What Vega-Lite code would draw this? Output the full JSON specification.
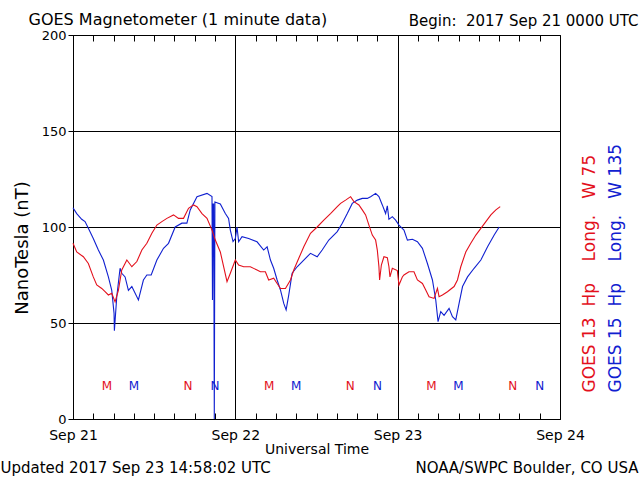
{
  "$schema": "https://vega.github.io/schema/vega-lite/v6.json",
  "description": "GOES magnetometer Hp, 2017 Sep 21-24",
  "width": 487,
  "height": 384,
  "autosize": "none",
  "padding": {"left": 73, "top": 35, "right": 80, "bottom": 61},
  "background": "white",
  "config": {
    "view": {"stroke": "black", "strokeWidth": 1},
    "font": "DejaVu Sans",
    "axis": {
      "labelFont": "DejaVu Sans",
      "titleFont": "DejaVu Sans",
      "labelColor": "black",
      "titleColor": "black",
      "titleFontWeight": "normal",
      "tickColor": "black",
      "domainColor": "black",
      "gridColor": "black",
      "gridOpacity": 1,
      "domain": false
    }
  },
  "datasets": {
    "goes": [
      {"sat": "GOES 15", "h": 0, "nT": 110}, {"sat": "GOES 15", "h": 0.55, "nT": 107}, {"sat": "GOES 15", "h": 1.29, "nT": 104},
      {"sat": "GOES 15", "h": 1.78, "nT": 102.8}, {"sat": "GOES 15", "h": 2.27, "nT": 99.3}, {"sat": "GOES 15", "h": 3.0, "nT": 94},
      {"sat": "GOES 15", "h": 3.75, "nT": 88}, {"sat": "GOES 15", "h": 4.49, "nT": 82.8}, {"sat": "GOES 15", "h": 5.23, "nT": 74},
      {"sat": "GOES 15", "h": 5.73, "nT": 67}, {"sat": "GOES 15", "h": 6.07, "nT": 55}, {"sat": "GOES 15", "h": 6.12, "nT": 46},
      {"sat": "GOES 15", "h": 6.47, "nT": 63.7}, {"sat": "GOES 15", "h": 6.96, "nT": 78.5}, {"sat": "GOES 15", "h": 7.21, "nT": 75.9},
      {"sat": "GOES 15", "h": 7.7, "nT": 74}, {"sat": "GOES 15", "h": 8.19, "nT": 67}, {"sat": "GOES 15", "h": 8.7, "nT": 69},
      {"sat": "GOES 15", "h": 9.67, "nT": 62}, {"sat": "GOES 15", "h": 10.41, "nT": 72.4}, {"sat": "GOES 15", "h": 10.92, "nT": 75},
      {"sat": "GOES 15", "h": 11.56, "nT": 75}, {"sat": "GOES 15", "h": 12.4, "nT": 82.8}, {"sat": "GOES 15", "h": 13.38, "nT": 88.9},
      {"sat": "GOES 15", "h": 14.12, "nT": 91.5}, {"sat": "GOES 15", "h": 15.11, "nT": 100}, {"sat": "GOES 15", "h": 16.1, "nT": 102},
      {"sat": "GOES 15", "h": 16.84, "nT": 102}, {"sat": "GOES 15", "h": 17.33, "nT": 108.9}, {"sat": "GOES 15", "h": 18.33, "nT": 115.8},
      {"sat": "GOES 15", "h": 19.81, "nT": 117.5}, {"sat": "GOES 15", "h": 20.55, "nT": 115.8}, {"sat": "GOES 15", "h": 20.62, "nT": 62},
      {"sat": "GOES 15", "h": 20.7, "nT": 112}, {"sat": "GOES 15", "h": 20.8, "nT": 112}, {"sat": "GOES 15", "h": 20.89, "nT": 0},
      {"sat": "GOES 15", "h": 20.98, "nT": 113}, {"sat": "GOES 15", "h": 21.78, "nT": 112}, {"sat": "GOES 15", "h": 22.52, "nT": 107},
      {"sat": "GOES 15", "h": 23.0, "nT": 104.5}, {"sat": "GOES 15", "h": 23.26, "nT": 98.4}, {"sat": "GOES 15", "h": 23.66, "nT": 92.4},
      {"sat": "GOES 15", "h": 24.0, "nT": 94}, {"sat": "GOES 15", "h": 24.25, "nT": 100}, {"sat": "GOES 15", "h": 24.49, "nT": 92.3},
      {"sat": "GOES 15", "h": 24.99, "nT": 95}, {"sat": "GOES 15", "h": 25.97, "nT": 94}, {"sat": "GOES 15", "h": 27.21, "nT": 92.3},
      {"sat": "GOES 15", "h": 28.19, "nT": 88}, {"sat": "GOES 15", "h": 28.7, "nT": 89.7}, {"sat": "GOES 15", "h": 29.19, "nT": 82.8},
      {"sat": "GOES 15", "h": 29.67, "nT": 78.5}, {"sat": "GOES 15", "h": 30.18, "nT": 72.4}, {"sat": "GOES 15", "h": 30.67, "nT": 67.2},
      {"sat": "GOES 15", "h": 31.16, "nT": 60.2}, {"sat": "GOES 15", "h": 31.51, "nT": 56.8}, {"sat": "GOES 15", "h": 31.9, "nT": 64.6},
      {"sat": "GOES 15", "h": 32.4, "nT": 75.9}, {"sat": "GOES 15", "h": 33.14, "nT": 79.3}, {"sat": "GOES 15", "h": 34.12, "nT": 82.8},
      {"sat": "GOES 15", "h": 35.11, "nT": 86.3}, {"sat": "GOES 15", "h": 36.1, "nT": 84.5}, {"sat": "GOES 15", "h": 36.84, "nT": 88},
      {"sat": "GOES 15", "h": 37.82, "nT": 93.2}, {"sat": "GOES 15", "h": 39.07, "nT": 97.6}, {"sat": "GOES 15", "h": 39.81, "nT": 102},
      {"sat": "GOES 15", "h": 40.55, "nT": 107}, {"sat": "GOES 15", "h": 41.29, "nT": 112.3}, {"sat": "GOES 15", "h": 42.03, "nT": 114},
      {"sat": "GOES 15", "h": 42.77, "nT": 114.9}, {"sat": "GOES 15", "h": 43.51, "nT": 114.9}, {"sat": "GOES 15", "h": 44.0, "nT": 115.8},
      {"sat": "GOES 15", "h": 44.74, "nT": 117.5}, {"sat": "GOES 15", "h": 45.23, "nT": 115.8}, {"sat": "GOES 15", "h": 45.73, "nT": 111.5},
      {"sat": "GOES 15", "h": 46.22, "nT": 107}, {"sat": "GOES 15", "h": 46.47, "nT": 111}, {"sat": "GOES 15", "h": 46.71, "nT": 104},
      {"sat": "GOES 15", "h": 47.21, "nT": 105.4}, {"sat": "GOES 15", "h": 47.7, "nT": 103.6}, {"sat": "GOES 15", "h": 48.19, "nT": 101},
      {"sat": "GOES 15", "h": 48.93, "nT": 98.4}, {"sat": "GOES 15", "h": 49.44, "nT": 93.2}, {"sat": "GOES 15", "h": 50.18, "nT": 93.6},
      {"sat": "GOES 15", "h": 50.92, "nT": 92.3}, {"sat": "GOES 15", "h": 51.66, "nT": 88.9}, {"sat": "GOES 15", "h": 52.4, "nT": 81},
      {"sat": "GOES 15", "h": 53.14, "nT": 72.4}, {"sat": "GOES 15", "h": 53.63, "nT": 62}, {"sat": "GOES 15", "h": 53.97, "nT": 50.7},
      {"sat": "GOES 15", "h": 54.37, "nT": 55.9}, {"sat": "GOES 15", "h": 54.86, "nT": 54}, {"sat": "GOES 15", "h": 55.6, "nT": 57.6},
      {"sat": "GOES 15", "h": 56.1, "nT": 53.3}, {"sat": "GOES 15", "h": 56.59, "nT": 51.6}, {"sat": "GOES 15", "h": 57.08, "nT": 60.2},
      {"sat": "GOES 15", "h": 57.59, "nT": 69}, {"sat": "GOES 15", "h": 58.33, "nT": 74}, {"sat": "GOES 15", "h": 59.3, "nT": 78.5},
      {"sat": "GOES 15", "h": 60.3, "nT": 82.8}, {"sat": "GOES 15", "h": 61.29, "nT": 89.7}, {"sat": "GOES 15", "h": 62.27, "nT": 95.8},
      {"sat": "GOES 15", "h": 63.01, "nT": 100},
      {"sat": "GOES 13", "h": 0, "nT": 91.5}, {"sat": "GOES 13", "h": 0.55, "nT": 87}, {"sat": "GOES 13", "h": 1.53, "nT": 84.5},
      {"sat": "GOES 13", "h": 2.27, "nT": 81}, {"sat": "GOES 13", "h": 3.0, "nT": 74}, {"sat": "GOES 13", "h": 3.51, "nT": 69.8},
      {"sat": "GOES 13", "h": 4.25, "nT": 68}, {"sat": "GOES 13", "h": 4.74, "nT": 66.3}, {"sat": "GOES 13", "h": 5.23, "nT": 64.6},
      {"sat": "GOES 13", "h": 5.73, "nT": 65.5}, {"sat": "GOES 13", "h": 6.22, "nT": 61}, {"sat": "GOES 13", "h": 6.71, "nT": 67},
      {"sat": "GOES 13", "h": 7.21, "nT": 77.6}, {"sat": "GOES 13", "h": 7.96, "nT": 82.8}, {"sat": "GOES 13", "h": 8.7, "nT": 79.3},
      {"sat": "GOES 13", "h": 9.44, "nT": 82}, {"sat": "GOES 13", "h": 10.18, "nT": 88}, {"sat": "GOES 13", "h": 10.92, "nT": 91.5},
      {"sat": "GOES 13", "h": 11.66, "nT": 96.7}, {"sat": "GOES 13", "h": 12.4, "nT": 101}, {"sat": "GOES 13", "h": 13.14, "nT": 102.8},
      {"sat": "GOES 13", "h": 13.88, "nT": 104.5}, {"sat": "GOES 13", "h": 14.86, "nT": 106.3}, {"sat": "GOES 13", "h": 15.6, "nT": 104.5},
      {"sat": "GOES 13", "h": 16.34, "nT": 104.5}, {"sat": "GOES 13", "h": 17.08, "nT": 109.7}, {"sat": "GOES 13", "h": 17.82, "nT": 111.5},
      {"sat": "GOES 13", "h": 18.33, "nT": 110.6}, {"sat": "GOES 13", "h": 19.07, "nT": 107}, {"sat": "GOES 13", "h": 19.81, "nT": 104.5},
      {"sat": "GOES 13", "h": 20.55, "nT": 98.4}, {"sat": "GOES 13", "h": 21.04, "nT": 93.2}, {"sat": "GOES 13", "h": 21.78, "nT": 87},
      {"sat": "GOES 13", "h": 22.27, "nT": 79.3}, {"sat": "GOES 13", "h": 22.77, "nT": 71.5}, {"sat": "GOES 13", "h": 23.26, "nT": 75.9},
      {"sat": "GOES 13", "h": 24.0, "nT": 82.8}, {"sat": "GOES 13", "h": 24.49, "nT": 80.2}, {"sat": "GOES 13", "h": 25.23, "nT": 79.3},
      {"sat": "GOES 13", "h": 26.22, "nT": 79.3}, {"sat": "GOES 13", "h": 27.21, "nT": 77.6}, {"sat": "GOES 13", "h": 27.7, "nT": 76.7},
      {"sat": "GOES 13", "h": 28.44, "nT": 76.7}, {"sat": "GOES 13", "h": 28.93, "nT": 72.4}, {"sat": "GOES 13", "h": 29.67, "nT": 73.3},
      {"sat": "GOES 13", "h": 30.18, "nT": 70.6}, {"sat": "GOES 13", "h": 30.67, "nT": 68}, {"sat": "GOES 13", "h": 31.41, "nT": 68},
      {"sat": "GOES 13", "h": 32.15, "nT": 72.4}, {"sat": "GOES 13", "h": 32.64, "nT": 77.6}, {"sat": "GOES 13", "h": 33.38, "nT": 83.7},
      {"sat": "GOES 13", "h": 34.12, "nT": 89.7}, {"sat": "GOES 13", "h": 35.11, "nT": 96.7}, {"sat": "GOES 13", "h": 36.1, "nT": 100},
      {"sat": "GOES 13", "h": 37.08, "nT": 103.6}, {"sat": "GOES 13", "h": 38.07, "nT": 107}, {"sat": "GOES 13", "h": 39.07, "nT": 110.6},
      {"sat": "GOES 13", "h": 39.56, "nT": 112.3}, {"sat": "GOES 13", "h": 40.3, "nT": 114}, {"sat": "GOES 13", "h": 41.04, "nT": 115.8},
      {"sat": "GOES 13", "h": 41.53, "nT": 113.2}, {"sat": "GOES 13", "h": 42.27, "nT": 111.5}, {"sat": "GOES 13", "h": 42.77, "nT": 108.9},
      {"sat": "GOES 13", "h": 43.26, "nT": 106.3}, {"sat": "GOES 13", "h": 43.75, "nT": 101}, {"sat": "GOES 13", "h": 44.25, "nT": 95.8},
      {"sat": "GOES 13", "h": 44.74, "nT": 93.2}, {"sat": "GOES 13", "h": 44.99, "nT": 88}, {"sat": "GOES 13", "h": 45.23, "nT": 79.3},
      {"sat": "GOES 13", "h": 45.33, "nT": 72.4}, {"sat": "GOES 13", "h": 45.59, "nT": 80.2}, {"sat": "GOES 13", "h": 45.97, "nT": 84.5},
      {"sat": "GOES 13", "h": 46.47, "nT": 84}, {"sat": "GOES 13", "h": 46.71, "nT": 79.3}, {"sat": "GOES 13", "h": 46.86, "nT": 74},
      {"sat": "GOES 13", "h": 47.21, "nT": 78.5}, {"sat": "GOES 13", "h": 47.95, "nT": 77.3}, {"sat": "GOES 13", "h": 48.19, "nT": 69.8},
      {"sat": "GOES 13", "h": 48.69, "nT": 74}, {"sat": "GOES 13", "h": 48.93, "nT": 75}, {"sat": "GOES 13", "h": 49.67, "nT": 76.7},
      {"sat": "GOES 13", "h": 50.41, "nT": 76.7}, {"sat": "GOES 13", "h": 50.92, "nT": 72.4}, {"sat": "GOES 13", "h": 51.66, "nT": 70.6},
      {"sat": "GOES 13", "h": 52.15, "nT": 67.2}, {"sat": "GOES 13", "h": 52.64, "nT": 63.7}, {"sat": "GOES 13", "h": 53.38, "nT": 62.8},
      {"sat": "GOES 13", "h": 53.88, "nT": 68}, {"sat": "GOES 13", "h": 54.12, "nT": 63.7}, {"sat": "GOES 13", "h": 54.62, "nT": 64.6},
      {"sat": "GOES 13", "h": 55.36, "nT": 66.3}, {"sat": "GOES 13", "h": 56.34, "nT": 69}, {"sat": "GOES 13", "h": 56.84, "nT": 72.4},
      {"sat": "GOES 13", "h": 57.33, "nT": 79.3}, {"sat": "GOES 13", "h": 58.07, "nT": 87}, {"sat": "GOES 13", "h": 58.81, "nT": 91.5},
      {"sat": "GOES 13", "h": 59.56, "nT": 95.8}, {"sat": "GOES 13", "h": 60.3, "nT": 99.3}, {"sat": "GOES 13", "h": 61.04, "nT": 102.8},
      {"sat": "GOES 13", "h": 61.78, "nT": 106.3}, {"sat": "GOES 13", "h": 62.52, "nT": 108.9}, {"sat": "GOES 13", "h": 63.16, "nT": 110.6}
    ],
    "mn": [
      {"sat": "GOES 13", "h": 5, "label": "M"}, {"sat": "GOES 15", "h": 9, "label": "M"},
      {"sat": "GOES 13", "h": 17, "label": "N"}, {"sat": "GOES 15", "h": 21, "label": "N"},
      {"sat": "GOES 13", "h": 29, "label": "M"}, {"sat": "GOES 15", "h": 33, "label": "M"},
      {"sat": "GOES 13", "h": 41, "label": "N"}, {"sat": "GOES 15", "h": 45, "label": "N"},
      {"sat": "GOES 13", "h": 53, "label": "M"}, {"sat": "GOES 15", "h": 57, "label": "M"},
      {"sat": "GOES 13", "h": 65, "label": "N"}, {"sat": "GOES 15", "h": 69, "label": "N"}
    ]
  },
  "layer": [
    {
      "data": {"name": "goes"},
      "mark": {"type": "line", "strokeWidth": 1.1},
      "encoding": {
        "x": {
          "field": "h", "type": "quantitative",
          "scale": {"domain": [0, 72], "nice": false, "zero": false},
          "axis": {
            "orient": "bottom", "offset": 0,
            "values": [0, 24, 48, 72],
            "labelExpr": "'Sep ' + (21 + datum.value / 24)",
            "labelFlush": false, "labelOverlap": false, "labelFontSize": 14, "labelPadding": 9,
            "ticks": false, "domain": true,
            "grid": true,
            "title": "Universal Time", "titleFontSize": 14,
            "titleX": 243.5, "titleY": 30, "titleBaseline": "middle", "titleAlign": "center"
          }
        },
        "y": {
          "field": "nT", "type": "quantitative",
          "scale": {"domain": [0, 200], "nice": false},
          "axis": {
            "orient": "left", "offset": 0,
            "values": [0, 50, 100, 150, 200],
            "ticks": true, "tickSize": 5, "domain": true, "labelPadding": 2, "labelFontSize": 13,
            "grid": true,
            "title": "NanoTesla (nT)", "titleFontSize": 18,
            "titleX": -51, "titleY": 212.5, "titleBaseline": "middle", "titleAlign": "center", "titleAngle": 270
          }
        },
        "color": {
          "field": "sat", "type": "nominal",
          "scale": {"domain": ["GOES 13", "GOES 15"], "range": ["#e3101c", "#1020d0"]},
          "legend": null
        }
      }
    },
    {
      "data": {"name": "mn"},
      "mark": {"type": "text", "fontSize": 12, "font": "DejaVu Sans", "baseline": "middle", "align": "center"},
      "encoding": {
        "x": {
          "field": "h", "type": "quantitative",
          "scale": {"domain": [0, 72], "nice": false, "zero": false},
          "axis": {
            "orient": "top", "offset": 0,
            "labels": false, "ticks": false, "grid": false,
            "title": "Begin:\u00a0\u00a02017 Sep 21 0000 UTC", "titleFontSize": 15,
            "titleX": 565, "titleY": -10, "titleAlign": "right", "titleBaseline": "alphabetic"
          }
        },
        "y": {
          "datum": 17, "type": "quantitative",
          "scale": {"domain": [0, 200], "nice": false},
          "axis": {
            "orient": "right", "offset": 0,
            "labels": false, "ticks": false, "grid": false,
            "title": "GOES\u00a013\u00a0\u00a0Hp\u00a0\u00a0\u00a0\u00a0Long.\u00a0\u00a0\u00a0W\u00a075", "titleColor": "#e3101c", "titleFontSize": 17,
            "titleAngle": 270, "titleAlign": "left", "titleBaseline": "middle", "titleX": 29.5, "titleY": 357
          }
        },
        "text": {"field": "label"},
        "color": {"field": "sat", "type": "nominal", "legend": null}
      }
    },
    {
      "data": {"name": "mn"},
      "mark": {"type": "point", "opacity": 0},
      "encoding": {
        "x": {
          "field": "h", "type": "quantitative",
          "scale": {"domain": [0, 72], "nice": false, "zero": false},
          "axis": {
            "orient": "top", "offset": 0,
            "labels": false, "ticks": false, "grid": false,
            "title": "GOES Magnetometer (1 minute data)", "titleFontSize": 16,
            "titleX": -45, "titleY": -11, "titleAlign": "left", "titleBaseline": "alphabetic"
          }
        },
        "y": {
          "datum": 17, "type": "quantitative",
          "scale": {"domain": [0, 200], "nice": false},
          "axis": {
            "orient": "right", "offset": 0,
            "labels": false, "ticks": false, "grid": false,
            "title": "GOES\u00a015\u00a0\u00a0Hp\u00a0\u00a0\u00a0\u00a0Long.\u00a0\u00a0\u00a0W\u00a0135", "titleColor": "#1020d0", "titleFontSize": 17,
            "titleAngle": 270, "titleAlign": "left", "titleBaseline": "middle", "titleX": 55, "titleY": 357
          }
        }
      }
    },
    {
      "data": {"name": "mn"},
      "mark": {"type": "point", "opacity": 0},
      "encoding": {
        "x": {
          "field": "h", "type": "quantitative",
          "scale": {"domain": [0, 72], "nice": false, "zero": false},
          "axis": {
            "orient": "bottom", "offset": 0,
            "values": [3, 6, 9, 12, 15, 18, 21, 27, 30, 33, 36, 39, 42, 45, 51, 54, 57, 60, 63, 66, 69],
            "labels": false, "ticks": false, "grid": true, "gridDash": [6, 372, 6],
            "title": "Updated 2017 Sep 23 14:58:02 UTC", "titleFontSize": 15,
            "titleX": -73, "titleY": 48, "titleAlign": "left", "titleBaseline": "middle"
          }
        },
        "y": {"datum": 17, "type": "quantitative", "scale": {"domain": [0, 200], "nice": false}, "axis": null}
      }
    },
    {
      "data": {"name": "mn"},
      "mark": {"type": "point", "opacity": 0},
      "encoding": {
        "x": {
          "field": "h", "type": "quantitative",
          "scale": {"domain": [0, 72], "nice": false, "zero": false},
          "axis": {
            "orient": "bottom", "offset": 0,
            "labels": false, "ticks": false, "grid": false,
            "title": "NOAA/SWPC Boulder, CO USA", "titleFontSize": 15,
            "titleX": 565, "titleY": 48, "titleAlign": "right", "titleBaseline": "middle"
          }
        },
        "y": {"datum": 17, "type": "quantitative", "scale": {"domain": [0, 200], "nice": false}, "axis": null}
      }
    }
  ],
  "resolve": {"scale": {"x": "independent", "y": "independent"}}
}
